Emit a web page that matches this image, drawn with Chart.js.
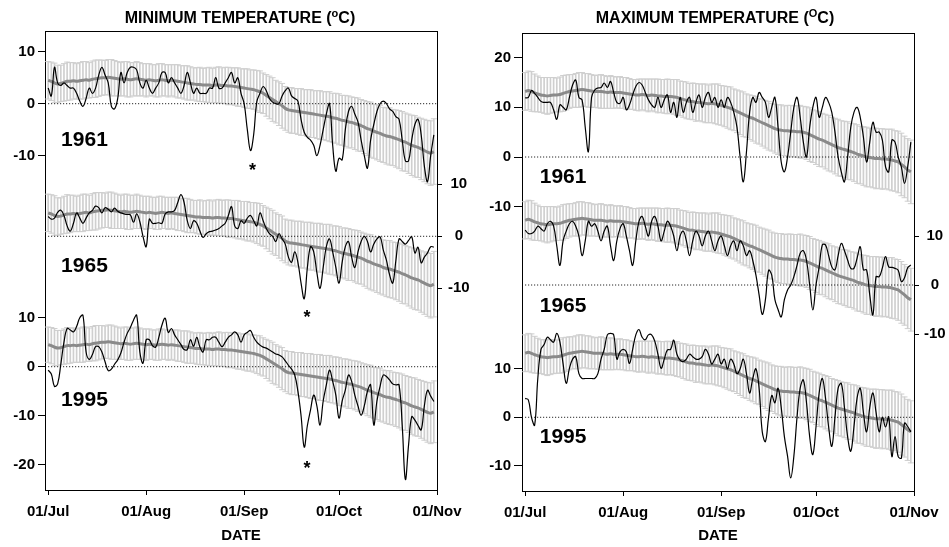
<!DOCTYPE html>
<html>
<head>
<meta charset="utf-8">
<script src="https://cdn.jsdelivr.net/npm/chart.js@4.4.1/dist/chart.umd.min.js"></script>
<style>
  body { margin: 0; background: #fff; width: 949px; height: 547px; position: relative; overflow: hidden;
         font-family: "Liberation Sans", Arial, sans-serif; }
  canvas { position: absolute; top: 0; }
  .ttl { position: absolute; top: 9px; line-height: 17px; font-weight: bold; font-size: 16px;
         white-space: nowrap; transform: translateX(-50%); color: #000; }
  .ttl sup { font-size: 11px; line-height: 0; vertical-align: 6px; }
</style>
</head>
<body>
<canvas id="minChart" width="476" height="547" style="left:0"></canvas>
<canvas id="maxChart" width="473" height="547" style="left:476px"></canvas>
<div class="ttl" style="left:240px">MINIMUM TEMPERATURE (<sup>o</sup>C)</div>
<div class="ttl" style="left:715px">MAXIMUM TEMPERATURE (<sup>O</sup>C)</div>
<script>
// x axis: day index counted from 01/Jul
const tickDays = [0, 31, 62, 92, 123];
const tickLabels = ["01/Jul", "01/Aug", "01/Sep", "01/Oct", "01/Nov"];
const years = ["1961", "1965", "1995"];

// y tick values per panel / year
const minTicks = { y1961: [10, 0, -10], y1965: [10, 0, -10], y1995: [10, 0, -10, -20] };
const maxTicks = { y1961: [20, 10, 0, -10], y1965: [10, 0, -10], y1995: [10, 0, -10] };

// minimum temperature: long term daily mean and standard deviation
const minMean = [
  4.5, 4.3, 4.0, 3.8, 3.9, 4.1, 4.3, 4.3, 4.4, 4.3,
  4.4, 4.5, 4.6, 4.5, 4.7, 4.8, 4.9, 5.0, 5.0, 5.1,
  5.0, 4.9, 4.8, 4.7, 4.8, 4.7, 4.6, 4.7, 4.8, 4.7,
  4.6, 4.5, 4.6, 4.5, 4.4, 4.5, 4.6, 4.5, 4.4, 4.5,
  4.4, 4.3, 4.2, 4.1, 4.0, 3.9, 3.8, 3.7, 3.7, 3.6,
  3.6, 3.6, 3.5, 3.6, 3.6, 3.5, 3.5, 3.4, 3.4, 3.3,
  3.2, 3.1, 3.0, 2.9, 2.8, 2.7, 2.5, 2.3, 2.0, 1.6,
  1.2, 0.8, 0.4, 0.0, -0.4, -0.9, -1.2, -1.3, -1.4, -1.5,
  -1.6, -1.7, -1.8, -1.9, -2.0, -2.1, -2.2, -2.3, -2.4, -2.5,
  -2.7, -2.8, -3.0, -3.2, -3.3, -3.5, -3.6, -3.8, -4.0, -4.2,
  -4.5, -4.8, -5.0, -5.3, -5.5, -5.7, -6.0, -6.2, -6.3, -6.5,
  -6.7, -6.9, -7.2, -7.4, -7.7, -8.0, -8.2, -8.4, -8.7, -9.0,
  -9.3, -9.5, -9.2
];
const minStd = [
  3.6, 3.7, 3.8, 3.6, 3.5, 3.6, 3.7, 3.6, 3.5, 3.4,
  3.5, 3.6, 3.5, 3.4, 3.5, 3.6, 3.5, 3.4, 3.3, 3.4,
  3.5, 3.4, 3.3, 3.2, 3.3, 3.4, 3.3, 3.2, 3.3, 3.2,
  3.1, 3.2, 3.1, 3.0, 3.1, 3.2, 3.1, 3.0, 3.1, 3.0,
  3.1, 3.2, 3.1, 3.2, 3.3, 3.2, 3.1, 3.2, 3.3, 3.2,
  3.3, 3.4, 3.3, 3.4, 3.5, 3.4, 3.5, 3.6, 3.5, 3.6,
  3.7, 3.6, 3.7, 3.8, 3.7, 3.8, 3.9, 4.0, 3.9, 4.0,
  4.1, 4.2, 4.1, 4.2, 4.3, 4.2, 4.3, 4.4, 4.3, 4.4,
  4.5, 4.4, 4.5, 4.6, 4.5, 4.6, 4.7, 4.6, 4.7, 4.8,
  4.7, 4.8, 4.9, 4.8, 4.9, 5.0, 4.9, 5.0, 5.1, 5.0,
  5.1, 5.2, 5.3, 5.2, 5.3, 5.4, 5.3, 5.4, 5.5, 5.4,
  5.5, 5.6, 5.7, 5.6, 5.7, 5.8, 5.9, 5.8, 5.9, 6.0,
  6.1, 6.2, 6.3
];
const min1961 = [
  3, 1.5, 7, 4, 3.5, 4, 3.5, 3, 3, 2,
  0.5, -0.5, 1, 3, 2, 3, 5.5, 7, 5.5, 4,
  -0.5, -1, 1, 6, 4, 6, 7, 7, 6.5, 4,
  3, 4.5, 3, 2, 3, 4, 6, 6, 4, 5,
  4, 3, 2, 3.5, 6, 4, 2, 3, 2, 2,
  2, 3, 3, 5, 3, 3, 4, 5, 6, 4,
  5, 2, 0, -5, -9, -6, 0.4, 2, 3.3, 2.5,
  1, 0.3, 0, 0, 1.5, 2.5, 3, 1.5, 1, 0.5,
  -3, -5.5, -6.5, -7, -8, -10, -8, -5, -2, 0,
  -8, -13, -10.5, -10.8, -5, -1.5, -0.5, -2, -3.5, -7,
  -10, -12.4, -7, -4, -1.5, 0, 0.5, 0, -1, -1.5,
  -2.5, -3, -7, -11, -11, -7, -4, -3, -6, -12,
  -15, -10, -6
];
const min1965 = [
  3.8, 3.3, 3.5, 4.6, 5, 4, 2, 1, 2.5, 4.5,
  3.5, 2.5, 3.5, 4.5, 5, 5.8, 5.5, 4.5, 5.5, 5.2,
  4.7, 5.4, 4.8, 4.5, 4.3, 4.2, 4.1, 2.7, 4.3, 2.8,
  0, -2, 3.3, 2.5, 2.5, 2.6, 2.5, 4.3, 4.7, 4.7,
  5, 6.5, 8, 6.5, 3, 1.5, 3, 2.5, 1, -0.2,
  0.5, 0.9, 1, 1.2, 1.5, 2, 2.5, 4, 5.7, 2,
  1.5, 3, 2.5, 3.5, 4, 3, 2, 4.5, 3, 1.5,
  0.5, 0, -1, 0.5, -0.5, -1.5, -4, -5, -3, -5,
  -9, -12, -6, -2, -3, -7, -10, -6, -2, -0.5,
  -3, -6, -9, -5, -2, -1, -4, -6, -3, -1,
  0, -1, -3, -1.5, -0.5, -0.1, -2.6, -4.6, -7.4, -9,
  -4.6, -0.5, -1, -1.5, -0.8, -0.1, -3.2, -2.1, -5.1, -4,
  -3.2, -2, -2.1
];
const min1995 = [
  -0.7, -1.5, -4, -3.5, 0.5, 5, 7.8, 7.5, 7.1, 8.2,
  10, 10.5, 3, 1.5, 2.5, 4.1, 4.1, 3, 1, -0.8,
  -0.5, 0.5, 1.4, 2.8, 5, 6.8, 8, 9.5, 10.5, 3,
  0.7, 5.5, 5.5, 4.3, 4, 6, 8.5, 9.9, 7, 7.8,
  6.5, 5.5, 4.5, 3.5, 3.5, 5.5, 4.2, 6, 4, 3,
  5.5, 5.5, 6, 6, 5, 4.1, 5, 6, 6.5, 7.1,
  6.5, 5, 6.5, 7, 7.4, 6, 5, 4.4, 4, 3.8,
  3.4, 3, 2.6, 2.4, 2, 1.2, 0.3, -0.5, -1.7, -5,
  -10, -16.4, -12, -8.8, -5.8, -8, -11.9, -7, -3.7, -0.7,
  -3, -5.8, -10.5, -7, -4.8, -1.7, -3, -5.8, -8, -9.9,
  -8, -5, -3.7, -11.9, -7, -4, -1.7, -2, -2.7, -3.5,
  -3.7, -3.7, -12, -23, -16, -10.2, -10.9, -12, -12.9, -8,
  -4.8, -6, -7.1
];

// maximum temperature
const maxMean = [
  13.2, 13.4, 13.2, 12.9, 12.7, 12.5, 12.4, 12.3, 12.4, 12.5,
  12.5, 12.6, 12.8, 13.0, 13.2, 13.3, 13.4, 13.5, 13.6, 13.5,
  13.4, 13.3, 13.2, 13.2, 13.2, 13.1, 13.0, 13.1, 13.0, 13.0,
  13.0, 12.9, 12.8, 12.7, 12.6, 12.5, 12.5, 12.6, 12.5, 12.4,
  12.5, 12.4, 12.3, 12.3, 12.2, 12.2, 12.2, 12.1, 12.0, 11.8,
  11.6, 11.4, 11.2, 11.2, 11.0, 11.0, 10.9, 10.8, 10.7, 10.8,
  10.7, 10.6, 10.4, 10.2, 10.0, 9.8, 9.5, 9.2, 8.9, 8.6,
  8.3, 8.0, 7.8, 7.5, 7.2, 6.9, 6.6, 6.3, 6.0, 5.7,
  5.5, 5.4, 5.3, 5.3, 5.2, 5.2, 5.1, 5.1, 5.0, 4.8,
  4.5, 4.2, 3.9, 3.6, 3.4, 3.1, 2.8, 2.5, 2.2, 1.9,
  1.7, 1.5, 1.3, 1.1, 0.9, 0.6, 0.4, 0.2, 0.0, -0.1,
  -0.2, -0.3, -0.3, -0.4, -0.4, -0.5, -0.6, -0.8, -1.0, -1.5,
  -2.0, -2.6, -3.0
];
const maxStd = [
  3.8, 3.9, 4.0, 3.8, 3.6, 3.5, 3.6, 3.7, 3.6, 3.5,
  3.4, 3.5, 3.6, 3.5, 3.4, 3.3, 3.4, 3.5, 3.4, 3.3,
  3.4, 3.3, 3.2, 3.3, 3.4, 3.3, 3.2, 3.3, 3.2, 3.1,
  3.2, 3.1, 3.2, 3.1, 3.0, 3.1, 3.2, 3.1, 3.2, 3.3,
  3.2, 3.3, 3.4, 3.3, 3.4, 3.5, 3.4, 3.5, 3.6, 3.5,
  3.6, 3.7, 3.6, 3.7, 3.8, 3.7, 3.8, 3.9, 3.8, 3.9,
  4.0, 4.1, 4.0, 4.1, 4.2, 4.3, 4.2, 4.3, 4.4, 4.5,
  4.4, 4.5, 4.6, 4.7, 4.6, 4.7, 4.8, 4.9, 4.8, 4.9,
  5.0, 5.1, 5.0, 5.1, 5.2, 5.1, 5.2, 5.3, 5.2, 5.3,
  5.4, 5.3, 5.4, 5.5, 5.4, 5.5, 5.6, 5.5, 5.6, 5.7,
  5.6, 5.7, 5.8, 5.7, 5.8, 5.9, 5.8, 5.9, 6.0, 5.9,
  6.0, 6.1, 6.0, 6.1, 6.0, 6.1, 6.2, 6.1, 6.2, 6.3,
  6.2, 6.3, 6.4
];
const max1961 = [
  11.9, 12, 13.4, 12.8, 12, 11.2, 11, 11, 11, 9.5,
  7.6, 10.5, 10, 9.5, 12, 14.5, 15.5, 12, 11.5, 6,
  1.1, 12, 13.5, 13.9, 14, 14.9, 14, 15.2, 13, 11,
  10.8, 12, 9.5, 10.5, 12.5, 14.2, 15, 14.5, 13, 11.5,
  10.5, 10, 12, 10, 11.5, 12.5, 9, 11, 8, 12,
  9, 11, 12, 9, 11, 12.5, 10, 12, 13, 11,
  12, 10, 11.5, 10, 12, 11, 9, 6, 0, -5,
  1, 9, 12, 11, 13, 12, 11, 8, 10, 12,
  6, -1, -3, 0, 5, 10, 12, 8, 3, 0,
  6, 10, 12, 8, 10, 12, 11, 9, 5, 0,
  -3, -5, 0, 6, 9, 10, 8, 4, -1, 3,
  7, 5, 5, 3.4, -2, -3, 3.4, 3, 0, -2,
  -5.3, -2, 3
];
const max1965 = [
  11.2, 10.5, 10.5, 11, 12, 11.5, 11, 12.5, 13, 12,
  8, 4, 9, 11, 12.5, 13, 12, 10, 6, 9,
  13, 12, 12.5, 11, 9, 11, 12, 8, 5, 9,
  11.5, 12.5, 10, 7, 4, 9, 13, 14, 12, 10,
  13, 14, 12, 9, 11, 13, 12, 10, 7, 10,
  11, 9, 6, 9, 11, 10, 8, 10, 11, 9,
  7, 9, 10, 8, 6, 8, 9, 7, 9, 8,
  6, 7, 5, 2, -2, -6, -3, 3, 2, -3,
  -5, -6.5, -3, -1, 0, 1.7, 4, 6.5, 7, 5,
  0, -5.1, 0, 3.7, 8.2, 8.2, 6, 3.7, 3.1, 6,
  8.5, 7, 5.1, 3.4, 3.4, 5.5, 7.8, 3.1, 3.1, -2,
  -6.1, 1.7, 1.7, 3.5, 5.8, 3.7, 3.6, 3.4, 3, 0.7,
  1.5, 3.5, 4.1
];
const max1995 = [
  3.9, 3.6, 0, -1.6, 8, 14, 15, 16.5, 16, 15.5,
  17.3, 15.5, 11, 7, 10.1, 12, 12.5, 9, 8, 8,
  8, 8, 8, 9, 12, 14, 17, 17.3, 17, 12,
  13.5, 14, 13.5, 11.1, 14, 17, 18.1, 16.5, 16, 17,
  17, 15.7, 13, 10.1, 12, 13.9, 14, 15.9, 13, 11.8,
  11.5, 12, 13, 12.5, 12, 12, 12.5, 14, 13, 11,
  12, 13, 11, 12, 10, 12, 11, 9, 10, 12,
  9, 5, 8, 10, 6, -3, -5, 0, 4.5, 3,
  6, 2, -4, -8, -12.5, -8, 0, 6, 7.7, 3,
  -4, -7.7, -2, 5, 8, 4, -2, -6, 0, 6,
  7, 2, -4, -7, -2, 4, 6, 1, -3, 2,
  5, 1, -3, 0, -2, 0.1, -8.1, -4, -8.1, -8.4,
  -1.2, -1.9, -3
];

const tickFont = { family: '"Liberation Sans", Arial, sans-serif', size: 15, weight: "bold" };

function pts(vals) {
  return vals.map((v, i) => ({ x: i, y: v }));
}

// black daily line, grey mean line, grey error bars with caps, dotted zero line
function yearSets(daily, mean, std, axis) {
  const barGrey = "#cfcfcf";
  return [
    { type: "line", data: pts(daily), yAxisID: axis, borderColor: "#000", borderWidth: 1.2, tension: 0.4, order: 0 },
    { type: "line", data: pts(mean), yAxisID: axis, borderColor: "#8a8a8a", borderWidth: 3, tension: 0.3, order: 1 },
    {
      type: "line",
      data: [{ x: tickDays[0], y: 0 }, { x: tickDays[tickDays.length - 1], y: 0 }],
      yAxisID: axis, borderColor: "#000", borderWidth: 1, borderDash: [1, 2], order: 2,
    },
    {
      type: "line", data: mean.map((m, i) => ({ x: i, y: m + std[i] })), yAxisID: axis,
      showLine: false, pointStyle: "line", pointRadius: 3, pointBorderColor: barGrey, pointBorderWidth: 1, order: 3,
    },
    {
      type: "line", data: mean.map((m, i) => ({ x: i, y: m - std[i] })), yAxisID: axis,
      showLine: false, pointStyle: "line", pointRadius: 3, pointBorderColor: barGrey, pointBorderWidth: 1, order: 3,
    },
    {
      type: "bar", data: mean.map((m, i) => ({ x: i, y: [m - std[i], m + std[i]] })), yAxisID: axis,
      backgroundColor: barGrey, barThickness: 1, grouped: false, order: 4,
    },
  ];
}

function yAxis(position, min, max, ticks, width, tickLen, extra) {
  return Object.assign({
    type: "linear", position: position, min: min, max: max,
    afterBuildTicks: (s) => { s.ticks = ticks.map((v) => ({ value: v })); },
    afterFit: (s) => { s.width = width; },
    grid: { drawOnChartArea: false, color: "#000", tickLength: tickLen },
    border: { color: "#000", width: 1 },
    ticks: { color: "#000", font: tickFont, padding: 3 },
  }, extra);
}

// writes year labels and asterisks at data positions
const notes = {
  id: "notes",
  afterDatasetsDraw(chart, args, opts) {
    const ctx = chart.ctx;
    ctx.save();
    ctx.fillStyle = "#000";
    opts.items.forEach((n) => {
      const px = chart.scales.x.getPixelForValue(n.x);
      const py = chart.scales[n.axis].getPixelForValue(n.y);
      ctx.font = n.font;
      ctx.textAlign = n.align;
      ctx.textBaseline = n.baseline;
      ctx.fillText(n.text, px, py + (n.dy || 0));
    });
    ctx.restore();
  },
};

function makeChart(id, sets, scales, items, bottomH, topH) {
  return new Chart(document.getElementById(id), {
    type: "line",
    data: { datasets: sets },
    plugins: [notes],
    options: {
      responsive: false,
      animation: false,
      events: [],
      layout: { padding: 0 },
      elements: { point: { radius: 0 } },
      plugins: {
        legend: { display: false },
        tooltip: { enabled: false },
        notes: { items: items },
      },
      scales: Object.assign({
        x: {
          type: "linear", position: "bottom", min: -1, max: tickDays[tickDays.length - 1], offset: false,
          afterBuildTicks: (s) => { s.ticks = tickDays.map((v) => ({ value: v })); },
          afterFit: (s) => { s.height = bottomH; },
          grid: { drawOnChartArea: false, color: "#000", tickLength: 5, offset: false },
          border: { color: "#000", dash: [1, 1.5] },
          ticks: { color: "#000", font: tickFont, padding: 8, autoSkip: false, maxRotation: 0,
                   callback: (v, i) => tickLabels[i] },
          title: { display: true, text: "DATE", color: "#000", font: tickFont, padding: { top: 0, bottom: 2 } },
        },
        xt: {
          type: "linear", position: "top", min: -1, max: tickDays[tickDays.length - 1],
          afterFit: (s) => { s.height = topH; },
          grid: { display: false },
          ticks: { display: false },
          border: { color: "#000" },
        },
      }, scales),
    },
  });
}

const yearFont = 'bold 21px "Liberation Sans", Arial, sans-serif';
const starFont = 'bold 18px "Liberation Sans", Arial, sans-serif';

makeChart(
  "minChart",
  [].concat(
    yearSets(min1961, minMean, minStd, "y1961"),
    yearSets(min1965, minMean, minStd, "y1965"),
    yearSets(min1995, minMean, minStd, "y1995")
  ),
  {
    y1961: yAxis("left", -18.52, 13.98, minTicks.y1961, 45, 7, { stack: "left", stackWeight: 169, weight: 2 }),
    y1995: yAxis("left", -25.16, 34.02, minTicks.y1995, 45, 7, { stack: "left", stackWeight: 290, weight: 1 }),
    y1965: yAxis("right", -48.79, 39.48, minTicks.y1965, 39, 5, {
      ticks: { color: "#000", font: tickFont, padding: 6, crossAlign: "center" },
    }),
  },
  [
    { text: years[0], axis: "y1961", x: 4.1, y: -7.0, font: yearFont, align: "left", baseline: "middle" },
    { text: years[1], axis: "y1965", x: 4.1, y: -5.8, font: yearFont, align: "left", baseline: "middle" },
    { text: years[2], axis: "y1995", x: 4.1, y: -6.9, font: yearFont, align: "left", baseline: "middle" },
    { text: "*", axis: "y1961", x: 64.6, y: -12.0, font: starFont, align: "center", baseline: "alphabetic", dy: 10 },
    { text: "*", axis: "y1965", x: 81.9, y: -14.7, font: starFont, align: "center", baseline: "alphabetic", dy: 10 },
    { text: "*", axis: "y1995", x: 81.9, y: -19.9, font: starFont, align: "center", baseline: "alphabetic", dy: 10 },
  ],
  57, 31
);

makeChart(
  "maxChart",
  [].concat(
    yearSets(max1961, maxMean, maxStd, "y1961"),
    yearSets(max1965, maxMean, maxStd, "y1965"),
    yearSets(max1995, maxMean, maxStd, "y1995")
  ),
  {
    y1961: yAxis("left", -17.72, 24.97, maxTicks.y1961, 46, 8, { stack: "left", stackWeight: 212, weight: 2 }),
    y1995: yAxis("left", -15.2, 35.53, maxTicks.y1995, 46, 8, { stack: "left", stackWeight: 246, weight: 1 }),
    y1965: yAxis("right", -42.04, 51.43, maxTicks.y1965, 35, 5, {
      ticks: { color: "#000", font: tickFont, padding: 5, crossAlign: "center" },
    }),
  },
  [
    { text: years[0], axis: "y1961", x: 4.6, y: -4.1, font: yearFont, align: "left", baseline: "middle" },
    { text: years[1], axis: "y1965", x: 4.6, y: -4.3, font: yearFont, align: "left", baseline: "middle" },
    { text: years[2], axis: "y1995", x: 4.6, y: -4.2, font: yearFont, align: "left", baseline: "middle" },
  ],
  56, 33
);
</script>
</body>
</html>
